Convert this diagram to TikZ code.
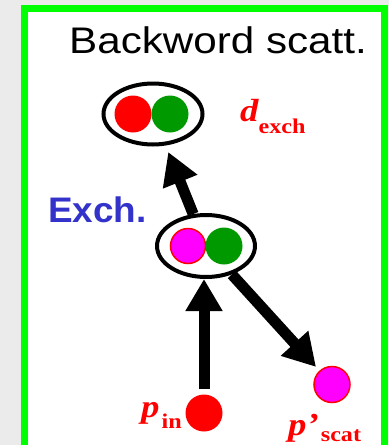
\documentclass[tikz,border=0pt]{standalone}
\usepackage{fontspec}
\usepackage{graphicx}
\setmainfont{Liberation Serif}
\newfontfamily\arialfont{Liberation Sans}
\usetikzlibrary{shapes.geometric,arrows.meta}
\definecolor{framegreen}{HTML}{00FF00}
\definecolor{dotgreen}{HTML}{009900}
\definecolor{dotred}{HTML}{FF0000}
\definecolor{dotmag}{HTML}{FF00FF}
\definecolor{exchblue}{HTML}{3333CC}
\definecolor{bggray}{HTML}{EBEBEB}
\newcommand{\wide}[1]{\scalebox{1.15}[1]{#1}}
\tikzset{
  pairbox/.style={ellipse, draw=black, line width=4pt, inner sep=0pt},
  dot/.style={circle, inner sep=0pt, minimum size=37pt},
  bigarrow/.style={line width=11pt, -{Triangle[length=32pt,width=35pt]}},
  lbl/.style={anchor=base west, inner sep=0pt, text=dotred, font=\fontsize{32}{32}\selectfont\bfseries\itshape}
}
\begin{document}
\begin{tikzpicture}[x=1pt,y=-1pt]
\useasboundingbox (0,0) rectangle (389,445);
\fill[bggray] (0,0) rectangle (389,445);
\draw[framegreen, fill=white, line width=7.5pt] (24.5,8.5) rectangle (384.5,449);
% title
\node[anchor=base west, inner sep=0pt, font=\arialfont\fontsize{37}{37}\selectfont] (title) at (69,53) {\scalebox{1.14}[1]{Backword scatt.}};
\node[anchor=base west, inner sep=0pt, text=exchblue, font=\arialfont\bfseries\fontsize{35.5}{35.5}\selectfont] (exch) at (48,222) {\scalebox{1.04}[1]{Exch.}};
% top pair
\node[pairbox, minimum width=99pt, minimum height=61pt] (top) at (153,114) {};
\node[dot, fill=dotred] (tr) at (133,114) {};
\node[dot, fill=dotgreen] (tg) at (170,114) {};
% middle pair
\node[pairbox, minimum width=98pt, minimum height=62pt] (mid) at (206,246) {};
\node[dot, fill=dotmag, draw=dotred, line width=1.5pt, minimum size=35pt] (mm) at (188,246) {};
\node[dot, fill=dotgreen] (mg) at (224,246) {};
% in / out
\node[dot, fill=dotred] (pin) at (204,413) {};
\node[dot, fill=dotmag, draw=dotred, line width=1.5pt, minimum size=36pt] (pscat) at (332,384.5) {};
% arrows
\draw[bigarrow, shorten >=7pt] (mid) -- (top);
\draw[bigarrow, shorten <=5pt] (pin) -- (pin |- mid.south);
\draw[bigarrow, shorten >=5pt] (mid) -- (pscat);
% labels
\node[lbl] (dl) at (240,121) {\wide{d}\raisebox{-12pt}{\upshape\fontsize{21}{21}\selectfont\wide{exch}}};
\node[lbl] (pl) at (141,417) {\wide{p}\hspace{2pt}\raisebox{-11pt}{\upshape\fontsize{21}{21}\selectfont\wide{in}}};
\node[lbl] (sl) at (288,435) {\wide{p’}\hspace{2pt}\raisebox{-6pt}{\upshape\fontsize{21}{21}\selectfont\wide{scat}}};
\end{tikzpicture}
\end{document}
